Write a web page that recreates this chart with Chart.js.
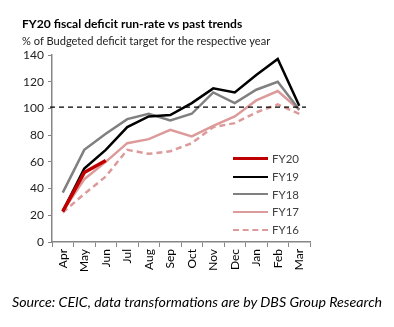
<!DOCTYPE html>
<html>
<head>
<meta charset="utf-8">
<script src="https://cdn.jsdelivr.net/npm/chart.js@4/dist/chart.umd.min.js"></script>
<style>
  body { margin: 0; background: #fff; font-family: Lato, "Open Sans", sans-serif; color: #000; }
  #wrap { position: relative; width: 394px; height: 327px; overflow: hidden; }
  #chart { position: absolute; left: 0; top: 0; }
  .title { position: absolute; left: 22px; top: 16px; font-size: 12.1px; font-weight: bold; white-space: nowrap; }
  .subtitle { position: absolute; left: 22px; top: 34px; font-size: 11.1px; color: #222; white-space: nowrap; }
  .source { position: absolute; left: 12px; top: 293px; font-size: 14.2px; font-style: italic; white-space: nowrap; }
  #legend { position: absolute; left: 233px; top: 150px; font-size: 11.5px; color: #404040; }
  .item { display: flex; align-items: center; height: 17.7px; }
  .swatch { width: 35px; margin-right: 4px; }
</style>
</head>
<body>
<div id="wrap">
  <canvas id="chart" width="394" height="327"></canvas>
  <div class="title">FY20 fiscal deficit run-rate vs past trends</div>
  <div class="subtitle">% of Budgeted deficit target for the respective year</div>
  <div id="legend"></div>
  <div class="source">Source: CEIC, data transformations are by DBS Group Research</div>
</div>
<script>
// data
const months = ['Apr', 'May', 'Jun', 'Jul', 'Aug', 'Sep', 'Oct', 'Nov', 'Dec', 'Jan', 'Feb', 'Mar'];
const fy20 = [23, 52, 61, null, null, null, null, null, null, null, null, null];
const fy19 = [23, 55, 69, 86, 94, 95, 104, 115, 112, 125, 137, 102];
const fy18 = [37, 69, 81, 92, 96, 91, 96, 112, 104, 114, 120, 99];
const fy17 = [23, 47, 60, 74, 77, 84, 79, 87, 94, 106, 113, 99];
const fy16 = [22, 36, 49, 69, 66, 68, 74, 86, 89, 97, 103, 96];
const yTicks = [0, 20, 40, 60, 80, 100, 120, 140];
const targetLine = 101;

const pink = '#dc9a9a';
const series = [
  { label: 'FY20', data: fy20, color: '#c00000', width: 3.5, dash: [] },
  { label: 'FY19', data: fy19, color: '#000000', width: 2.5, dash: [] },
  { label: 'FY18', data: fy18, color: '#808080', width: 2.5, dash: [] },
  { label: 'FY17', data: fy17, color: pink, width: 2.5, dash: [] },
  { label: 'FY16', data: fy16, color: pink, width: 2.5, dash: [6, 4] }
];

// dashed 100% reference line across the plot
const targetPlugin = {
  id: 'target',
  afterDatasetsDraw(chart) {
    const ctx = chart.ctx;
    const area = chart.chartArea;
    const y = chart.scales.y.getPixelForValue(targetLine);
    ctx.save();
    ctx.strokeStyle = '#000';
    ctx.lineWidth = 1.3;
    ctx.setLineDash([5, 4]);
    ctx.beginPath();
    ctx.moveTo(area.left - 2, y);
    ctx.lineTo(area.right - 4, y);
    ctx.stroke();
    ctx.restore();
  }
};

const axisColor = '#868686';
const tickFont = { family: 'Lato, "Open Sans", sans-serif', size: 12 };

new Chart(document.getElementById('chart'), {
  type: 'line',
  data: {
    labels: months,
    datasets: series.map(s => ({
      label: s.label,
      data: s.data,
      borderColor: s.color,
      borderWidth: s.width,
      borderDash: s.dash,
      pointRadius: 0,
      tension: 0,
      fill: false
    }))
  },
  options: {
    responsive: false,
    animation: false,
    layout: { padding: { top: 55, right: 84, bottom: 0, left: 0 } },
    plugins: { legend: { display: false }, tooltip: { enabled: false } },
    scales: {
      x: {
        offset: true,
        grid: { offset: true, drawOnChartArea: false, drawTicks: true, tickLength: 5, color: axisColor },
        border: { color: axisColor, width: 1.5 },
        ticks: { color: '#000', font: tickFont, minRotation: 90, maxRotation: 90, padding: 2 },
        afterFit(scale) { scale.height = 85; }
      },
      y: {
        min: 0,
        max: 140,
        afterBuildTicks(scale) { scale.ticks = yTicks.map(v => ({ value: v })); },
        grid: { drawOnChartArea: false, drawTicks: true, tickLength: 4, color: axisColor },
        border: { color: axisColor, width: 1.5 },
        ticks: { color: '#222', font: tickFont, padding: 4 },
        afterFit(scale) { scale.width = 52; }
      }
    }
  },
  plugins: [targetPlugin]
});

// legend on the right of the plot
const legend = document.getElementById('legend');
series.forEach(s => {
  const row = document.createElement('div');
  row.className = 'item';
  const sw = document.createElement('div');
  sw.className = 'swatch';
  sw.style.borderTop = s.width + 'px ' + (s.dash.length ? 'dashed ' : 'solid ') + s.color;
  const txt = document.createElement('span');
  txt.textContent = s.label;
  row.appendChild(sw);
  row.appendChild(txt);
  legend.appendChild(row);
});
</script>
</body>
</html>
